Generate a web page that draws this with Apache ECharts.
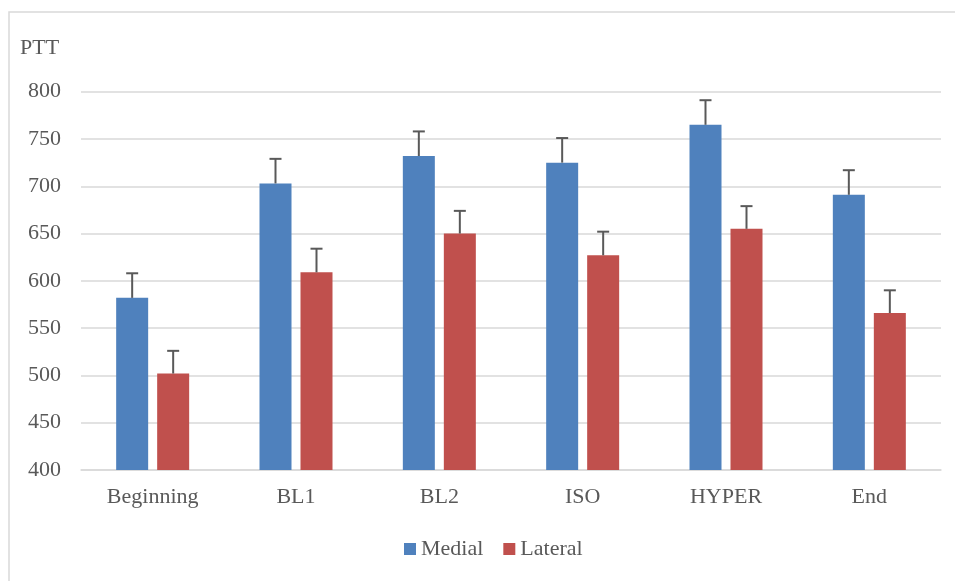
<!DOCTYPE html>
<html>
<head>
<meta charset="utf-8">
<script src="https://cdn.jsdelivr.net/npm/echarts@6/dist/echarts.min.js"></script>
<style>html,body{margin:0;padding:0;background:#fff}#c{width:955px;height:581px}</style>
</head>
<body>
<div id="c"></div>
<script>
var categories = ['Beginning', 'BL1', 'BL2', 'ISO', 'HYPER', 'End'];
var medial = [582, 703, 732, 725, 765, 691];
var medialErr = [26, 26, 26, 26, 26, 26];
var lateral = [502, 609, 650, 627, 655, 566];
var lateralErr = [24, 25, 24, 25, 24, 24];
var yTicks = [400, 450, 500, 550, 600, 650, 700, 750, 800];

var FONT = '"Liberation Serif", "DejaVu Serif", serif';
var TXT = '#595959';
var FS = 22;
var BAR_W = 32, BAR_GAP = 9;

function errSeries(name, vals, errs, side) {
  return {
    type: 'custom',
    name: name + ' err',
    z: 10,
    silent: true,
    data: vals.map(function (v, i) { return [i, v, v + errs[i]]; }),
    renderItem: function (params, api) {
      var off = side * (BAR_W + BAR_GAP) / 2;
      var p0 = api.coord([api.value(0), api.value(1)]);
      var p1 = api.coord([api.value(0), api.value(2)]);
      var x = p0[0] + off;
      var st = { stroke: '#595959', lineWidth: 2 };
      return {
        type: 'group',
        children: [
          { type: 'line', shape: { x1: x, y1: p0[1], x2: x, y2: p1[1] }, style: st },
          { type: 'line', shape: { x1: x - 6, y1: p1[1], x2: x + 6, y2: p1[1] }, style: st }
        ]
      };
    }
  };
}

var chart = echarts.init(document.getElementById('c'), null, { renderer: 'canvas' });
chart.setOption({
  animation: false,
  backgroundColor: '#fff',
  textStyle: { fontFamily: FONT, color: TXT },
  grid: { left: 81, right: 14, top: 91.7, bottom: 111, containLabel: false },
  graphic: [
    { type: 'rect', shape: { x: 9, y: 12, width: 1200, height: 1200 },
      style: { fill: 'none', stroke: '#d9d9d9', lineWidth: 1.5 }, silent: true },
    { type: 'text', left: 20, top: 37,
      style: { text: 'PTT', font: FS + 'px ' + FONT, fill: TXT } }
  ],
  legend: {
    top: 533,
    left: 399,
    itemWidth: 12,
    itemHeight: 12,
    itemGap: 20,
    icon: 'rect',
    data: ['Medial', 'Lateral'],
    textStyle: { fontFamily: FONT, fontSize: FS, color: TXT, padding: [0, 0, 0, 0] }
  },
  xAxis: {
    type: 'category',
    data: categories,
    axisTick: { show: false },
    axisLine: { lineStyle: { color: '#d9d9d9', width: 1.5 } },
    axisLabel: { fontFamily: FONT, fontSize: FS, color: TXT, margin: 16 }
  },
  yAxis: {
    type: 'value',
    min: yTicks[0],
    max: yTicks[yTicks.length - 1],
    interval: 50,
    axisLine: { show: false },
    axisTick: { show: false },
    splitLine: { lineStyle: { color: '#d9d9d9', width: 1.5 } },
    axisLabel: { fontFamily: FONT, fontSize: FS, color: TXT, margin: 20 }
  },
  series: [
    { name: 'Medial', type: 'bar', data: medial, barWidth: BAR_W, barGap: (BAR_GAP / BAR_W * 100) + '%',
      itemStyle: { color: '#4F81BD' } },
    { name: 'Lateral', type: 'bar', data: lateral, barWidth: BAR_W,
      itemStyle: { color: '#C0504D' } },
    errSeries('Medial', medial, medialErr, -1),
    errSeries('Lateral', lateral, lateralErr, 1)
  ]
});
</script>
</body>
</html>
